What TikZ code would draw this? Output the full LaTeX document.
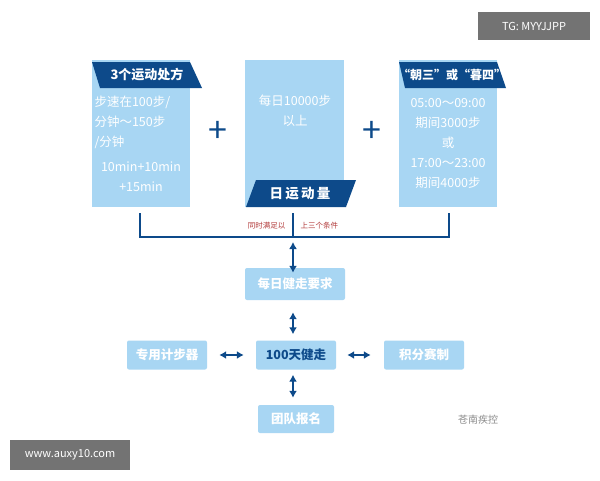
\documentclass[tikz,border=0pt]{standalone}
\usepackage{fontspec}
\setmainfont{Noto Sans CJK SC}
\usetikzlibrary{arrows.meta}
\definecolor{lightbox}{HTML}{A8D6F3}
\definecolor{darkblue}{HTML}{0D4A8A}
\definecolor{redtext}{HTML}{B23A3A}
\tikzset{
  box/.style={fill=lightbox,rounded corners=2pt,font=\bfseries\fontsize{12.5}{14}\selectfont,text=white,inner sep=0pt},
  dbl/.style={{Latex[length=7pt,width=8pt]}-{Latex[length=7pt,width=8pt]},darkblue,line width=2pt},
  bar/.style={darkblue,line width=2.5pt},
  body/.style={text=white,font=\fontsize{12.5}{20}\selectfont,align=center}
}
\begin{document}
\begin{tikzpicture}[x=1pt,y=-1pt]
  \useasboundingbox[fill=white] (0,0) rectangle (600,480);
  % top boxes
  \fill[lightbox] (92,60) rectangle (190,207);
  \fill[lightbox] (245,60) rectangle (344,207);
  \fill[lightbox] (399,60) rectangle (497,207);
  \fill[darkblue] (92,62) -- (190,62) -- (202,88) -- (100,88) -- cycle;
  \fill[darkblue] (256,180) -- (356,180) -- (346,207) -- (246,207) -- cycle;
  \fill[darkblue] (399,62) -- (497,62) -- (506,88) -- (405,88) -- cycle;
  \node[text=white,font=\bfseries\fontsize{13}{15}\selectfont] (tagl) at (147,75) {3个运动处方};
  \node[text=white,font=\bfseries\fontsize{13.5}{15}\selectfont] (tagm) at (300,194) {日\,运\,动\,量};
  \node[text=white,font=\bfseries\fontsize{12}{15}\selectfont] (tagr) at (452,75) {“朝三”或“暮四”};
  \node[body,align=left,anchor=north west] (txtl) at (91,92) {步速在100步/\\分钟～150步\\/分钟};
  \node[body] (txtl2) at (141,177) {10min+10min\\+15min};
  \node[body] (txtm) at (295,111) {每日10000步\\以上};
  \node[body] (txtr) at (448,143) {05:00～09:00\\期间3000步\\或\\17:00～23:00\\期间4000步};
  \node[darkblue,font=\fontsize{34}{34}\selectfont] (plus1) at (218,132) {+};
  \node[darkblue,font=\fontsize{34}{34}\selectfont] (plus2) at (372,132) {+};
  % bracket
  \draw[bar] (140,213) -- (140,237) -- (449,237) -- (449,213);
  \draw[bar] (293,213) -- (293,237);
  \node[redtext,font=\fontsize{7.5}{9}\selectfont,anchor=east] (condl) at (289,226) {同时满足以};
  \node[redtext,font=\fontsize{7.5}{9}\selectfont,anchor=west] (condr) at (297,226) {上三个条件};
  \coordinate (brk) at (293,242);
  % lower boxes
  \node[box,minimum width=100pt,minimum height=32pt] (req) at (295,284) {每日健走要求};
  \node[box,minimum width=80pt,minimum height=29pt,text=darkblue] (walk) at (296,355) {100天健走};
  \node[box,minimum width=80pt,minimum height=29pt] (ped) at (167,355) {专用计步器};
  \node[box,minimum width=80pt,minimum height=29pt] (score) at (424,355) {积分赛制};
  \node[box,minimum width=76pt,minimum height=28pt] (team) at (296,419) {团队报名};
  \draw[dbl] (brk) -- ([yshift=-5pt]req.north-|brk);
  \draw[dbl] ([yshift=-12pt]req.south-|brk) -- ([yshift=6pt]walk.north-|brk);
  \draw[dbl] ([xshift=12pt]ped.east) -- ([xshift=-12pt]walk.west);
  \draw[dbl] ([xshift=11pt]walk.east) -- ([xshift=-13pt]score.west);
  \draw[dbl] ([yshift=-5pt]walk.south-|brk) -- ([yshift=7pt]team.north-|brk);
  % watermarks
  \fill[black!55] (478,12) rectangle (590,40);
  \node[text=white,font=\fontsize{11}{13}\selectfont] (tg) at (534,26) {TG: MYYJJPP};
  \fill[black!55] (10,440) rectangle (130,470);
  \node[text=white,font=\fontsize{11}{13}\selectfont] (web) at (70,455) {www.auxy10.com};
  \node[black!45,font=\fontsize{10}{12}\selectfont] (logo) at (478,420) {苍南疾控};
\end{tikzpicture}
\end{document}
